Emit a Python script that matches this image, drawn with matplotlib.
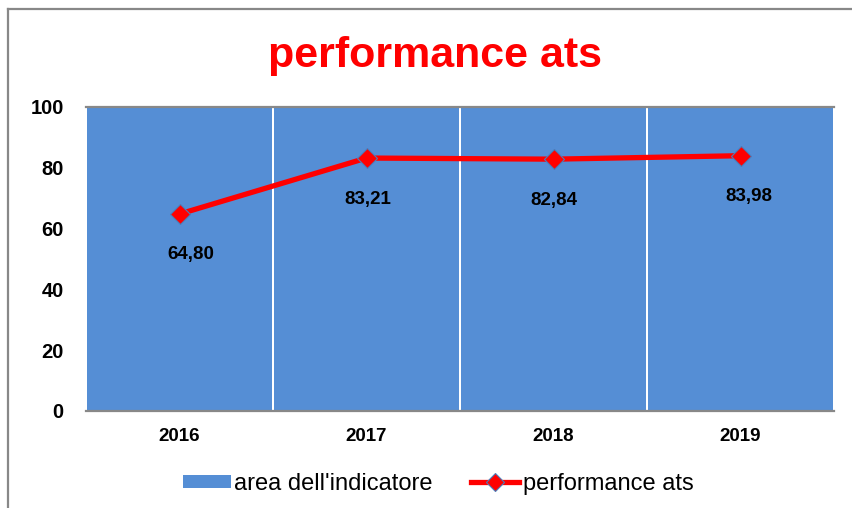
import matplotlib
matplotlib.use('Agg')
import matplotlib.pyplot as plt
from matplotlib.lines import Line2D
from matplotlib.patches import Patch

# --- dati ---
anni = ['2016', '2017', '2018', '2019']
area_indicatore = [100, 100, 100, 100]
performance_ats = [64.80, 83.21, 82.84, 83.98]
etichette = ['64,80', '83,21', '82,84', '83,98']
y_ticks = [0, 20, 40, 60, 80, 100]

# piccoli spostamenti orizzontali delle etichette (px), come nell'originale
dx_etichette = [11, 1, 0, 8]

plt.rcParams['font.family'] = ['Liberation Sans', 'DejaVu Sans']

fig = plt.figure(figsize=(8.52, 5.08), dpi=100)
ax = fig.add_axes([86 / 852, 1 - 411 / 508, (834 - 86) / 852, (411 - 107) / 508])

x = list(range(len(anni)))
ax.bar(x, area_indicatore, width=0.99, color='#558ED5', edgecolor='none', zorder=1)
ax.plot(x, performance_ats, color='#FF0000', lw=3.8, marker='D', markersize=10,
        markerfacecolor='#FF0000', markeredgecolor='#4A7EBB', markeredgewidth=0.8,
        zorder=3, solid_capstyle='round')

for xi, v, lab, dx in zip(x, performance_ats, etichette, dx_etichette):
    ax.annotate(lab, (xi, v), xytext=(dx * 0.72, -29.5), textcoords='offset points',
                ha='center', va='center', fontsize=13.5, fontweight='bold', color='black')

ax.set_xlim(-0.5, len(anni) - 0.5)
ax.set_ylim(0, 100)
ax.set_yticks(y_ticks)
ax.set_xticks(x)
ax.set_xticklabels(anni)
ax.tick_params(axis='y', length=0, pad=16, labelsize=14.5)
ax.tick_params(axis='x', length=0, pad=12, labelsize=13.5)
for lab in ax.get_xticklabels() + ax.get_yticklabels():
    lab.set_fontweight('bold')

for s in ['left', 'right']:
    ax.spines[s].set_visible(False)
for s in ['top', 'bottom']:
    ax.spines[s].set_color('#888888')
    ax.spines[s].set_linewidth(1.6)

fig.text(435 / 852, 1 - 56 / 508, 'performance ats', color='#FF0000',
         fontsize=31, fontweight='bold', ha='center', va='center')

# legenda
handles = [Patch(facecolor='#558ED5', edgecolor='none'),
           Line2D([0], [0], color='#FF0000', lw=3.8, marker='D', markersize=9,
                  markerfacecolor='#FF0000', markeredgecolor='#4A7EBB', markeredgewidth=0.8)]
fig.legend(handles, ['area dell\'indicatore', 'performance ats'], ncol=2,
           loc='center', bbox_to_anchor=(438 / 852, 1 - 484 / 508), frameon=False,
           fontsize=17, handlelength=2.05, handleheight=0.5, handletextpad=0.15,
           columnspacing=1.6)

# cornice del grafico (solo sinistra e alto visibili)
fig.add_artist(Line2D([7.5 / 852, 7.5 / 852], [0, 1 - 8.5 / 508], color='#888888', lw=1.6))
fig.add_artist(Line2D([7.5 / 852, 1], [1 - 8.5 / 508, 1 - 8.5 / 508], color='#888888', lw=1.6))

fig.savefig('out.png', dpi=100)
